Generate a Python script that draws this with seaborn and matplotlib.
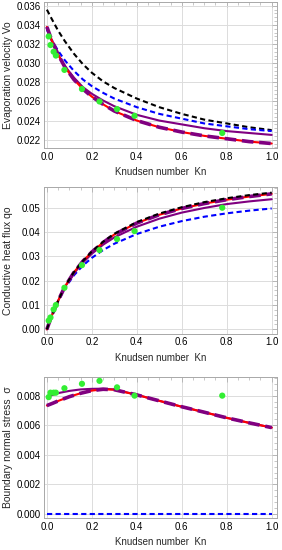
import numpy as np
import pandas as pd
import matplotlib
matplotlib.use("Agg")
import matplotlib.pyplot as plt
import seaborn as sns
from matplotlib.ticker import MultipleLocator, FormatStrFormatter

# ---------------- data ----------------
kn = [0, 0.02, 0.05, 0.08, 0.12, 0.16, 0.2, 0.25, 0.3, 0.4, 0.5, 0.6, 0.7, 0.8, 0.9, 1.0]
kn_pts = [0.008, 0.016, 0.03, 0.04, 0.078, 0.156, 0.234, 0.312, 0.39, 0.78]

# Evaporation velocity
vo_black = [0.0356, 0.0347, 0.0334, 0.0323, 0.0310, 0.0299, 0.0290, 0.0281, 0.0274, 0.0263, 0.0254, 0.0247, 0.0241, 0.0237, 0.0233, 0.0230]
vo_blue = [0.0335, 0.0325, 0.0313, 0.0303, 0.0292, 0.0283, 0.0276, 0.0269, 0.0263, 0.0254, 0.0247, 0.0242, 0.0237, 0.0234, 0.0231, 0.0229]
vo_purple = [0.0337, 0.0324, 0.0309, 0.0297, 0.0285, 0.0275, 0.0268, 0.0261, 0.0255, 0.0246, 0.0240, 0.0236, 0.0232, 0.0229, 0.0227, 0.0225]
vo_red = [0.0338, 0.0325, 0.0309, 0.0296, 0.0283, 0.0273, 0.0265, 0.0257, 0.0250, 0.0240, 0.0233, 0.0228, 0.0224, 0.0221, 0.0218, 0.0216]
vo_pts = [0.0328, 0.0319, 0.0312, 0.0308, 0.0293, 0.0273, 0.0260, 0.0252, 0.0245, 0.0227]

# Conductive heat flux
qo_black = [0.0, 0.0053, 0.0118, 0.0176, 0.0235, 0.0281, 0.0320, 0.0360, 0.0393, 0.0441, 0.0476, 0.0502, 0.0523, 0.0539, 0.0552, 0.0562]
qo_blue = [0.0, 0.0052, 0.0115, 0.0169, 0.0222, 0.0262, 0.0294, 0.0326, 0.0352, 0.0392, 0.0422, 0.0445, 0.0463, 0.0477, 0.0488, 0.0497]
qo_purple = [0.0, 0.0053, 0.0117, 0.0174, 0.0230, 0.0274, 0.0311, 0.0348, 0.0378, 0.0422, 0.0455, 0.0480, 0.0499, 0.0515, 0.0526, 0.0535]
qo_red = [0.0, 0.0053, 0.0118, 0.0175, 0.0234, 0.0280, 0.0318, 0.0357, 0.0390, 0.0437, 0.0471, 0.0497, 0.0517, 0.0533, 0.0546, 0.0557]
qo_pts = [0.0036, 0.0049, 0.0082, 0.0100, 0.0171, 0.0264, 0.0326, 0.0371, 0.0404, 0.0500]

# Boundary normal stress
kn_s = [0, 0.025, 0.05, 0.1, 0.15, 0.2, 0.25, 0.3, 0.4, 0.5, 0.6, 0.7, 0.8, 0.9, 1.0]
s_blue = [0.0] * 15
s_purple = [0.00790, 0.00805, 0.00817, 0.00832, 0.00842, 0.00846, 0.00847, 0.00842, 0.00806, 0.00765, 0.00725, 0.00688, 0.00650, 0.00616, 0.00584]
s_red = [0.00733, 0.00748, 0.00764, 0.00793, 0.00816, 0.00834, 0.00843, 0.00840, 0.00805, 0.00765, 0.00725, 0.00688, 0.00650, 0.00616, 0.00584]
s_pts = [0.0079, 0.0082, 0.0082, 0.0082, 0.0085, 0.0088, 0.0090, 0.00856, 0.0080, 0.0080]

xticks = [0.0, 0.2, 0.4, 0.6, 0.8, 1.0]

# ---------------- style ----------------
sns.set_theme(style="white")
plt.rcParams['font.family'] = ['Liberation Sans', 'DejaVu Sans']
plt.rcParams['axes.unicode_minus'] = False

FS = 7.0
LFS = 7.5
BLACK = "#000000"
BLUE = "#0000ff"
PURPLE = "#800080"
RED = "#ff0000"
GREEN = "#33ee33"

fig = plt.figure(figsize=(2.82, 5.5), dpi=100)
W, H = 282.0, 550.0
left, right = 44.3, 277.0
rows = [(2.0, 148.3), (187.3, 333.5), (376.7, 518.3)]
axes = [fig.add_axes([left / W, 1 - b / H, (right - left) / W, (b - t) / H]) for t, b in rows]

SHORT = (0, (2.5, 1.6))
LONG = (0, (3.2, 1.6))


def draw(ax, x, black, blue, purple, red, ypts, ylabel, ylim, ystep, fmt, black_on_top=False):
    if black is not None and not black_on_top:
        sns.lineplot(x=x, y=black, ax=ax, color=BLACK, lw=1.5, linestyle=SHORT, zorder=3)
    sns.lineplot(x=x, y=blue, ax=ax, color=BLUE, lw=1.5, linestyle=SHORT, zorder=3)
    sns.lineplot(x=x, y=purple, ax=ax, color=PURPLE, lw=1.5, zorder=3)
    sns.lineplot(x=x, y=red, ax=ax, color=RED, lw=1.5, zorder=3)
    sns.lineplot(x=x, y=red, ax=ax, color=PURPLE, lw=2.6, linestyle=LONG, zorder=4)
    if black is not None and black_on_top:
        sns.lineplot(x=x, y=black, ax=ax, color=BLACK, lw=1.5, linestyle=SHORT, zorder=5)
    sns.scatterplot(x=kn_pts, y=ypts, ax=ax, color=GREEN, s=20, edgecolor="none", zorder=6)

    ax.set_xlim(-0.0115, 1.0236)
    ax.set_ylim(*ylim)
    ax.set_xticks(xticks)
    ax.set_xticklabels([f"{v:.1f}" for v in xticks])
    ax.yaxis.set_major_locator(MultipleLocator(ystep))
    ax.yaxis.set_major_formatter(FormatStrFormatter(fmt))
    ax.xaxis.set_minor_locator(MultipleLocator(0.05))
    ax.yaxis.set_minor_locator(MultipleLocator(ystep / 5))
    ax.tick_params(which="both", direction="in", top=True, right=True, colors="#b0b0b0",
                   labelcolor="black", labelsize=FS)
    ax.tick_params(which="major", length=3.5, width=0.6, pad=2.5)
    ax.tick_params(which="minor", length=2, width=0.5)
    ax.grid(True, which="major", color="#dcdcdc", lw=0.7)
    ax.set_axisbelow(True)
    for sp in ax.spines.values():
        sp.set_color("#a8a8a8")
        sp.set_linewidth(0.7)
    ax.set_xlabel("Knudsen number  Kn", fontsize=FS, labelpad=4)
    ax.set_ylabel(ylabel, fontsize=LFS)
    ax.yaxis.set_label_coords(-31 / (right - left), 0.5)


draw(axes[0], kn, vo_black, vo_blue, vo_purple, vo_red, vo_pts,
     "Evaporation velocity Vo", (0.0211, 0.0364), 0.002, "%.3f")
draw(axes[1], kn, qo_black, qo_blue, qo_purple, qo_red, qo_pts,
     "Conductive heat flux qo", (-0.0017, 0.0584), 0.01, "%.2f", black_on_top=True)
draw(axes[2], kn_s, None, s_blue, s_purple, s_red, s_pts,
     "Boundary normal stress  σ", (-0.00029, 0.00928), 0.002, "%.3f")

fig.savefig("out.png", dpi=100)
